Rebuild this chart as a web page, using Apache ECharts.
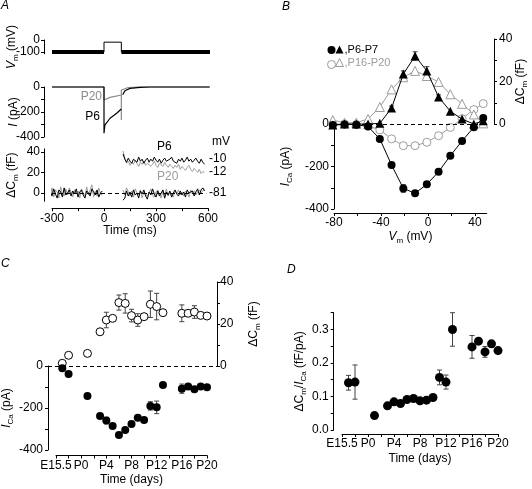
<!DOCTYPE html>
<html><head><meta charset="utf-8">
<script src="https://cdn.jsdelivr.net/npm/echarts@6/dist/echarts.min.js"></script>
<style>html,body{margin:0;padding:0;background:#fff}#c{width:532px;height:489px}</style>
</head><body><div id="c"></div>
<script>
// ================= DATA =================
// Panel A – voltage protocol (ms / mV as drawn)
const vmEdges = [-300, 0, 100, 613];
const vmHold = -100, vmStep = -18;
// Panel A – Ca currents (ms, pA)
const iP6 = [[-300,0],[0,0],[0,-370],[5,-305],[35,-250],[73,-210],[100,-176]];
const iP6Tail = [[108,-62],[111,-51],[121,-30],[150,-11],[208,-3],[265,0],[610,0]];
const iP20 = [[-300,0],[0,0],[0,-104],[35,-83],[100,-64],[100,-264],[100,-24],[110,-12],[140,-4],[200,0],[610,0]];
// Panel A – capacitance traces (fF), sampled every cmDt ms
const cmDt = 10, cmPreStart = -310, cmPostStart = 110;
const cmPreP6  = [2,-3,4,-1,-5,3,1,-4,5,-2,0,3,-3,2,-1,4,-4,1,3,-2,-5,2,0,-3,4,1,-2,3,-4,0,2];
const cmPreP20 = [-2,5,-4,3,1,-5,6,-1,-3,4,-2,5,1,-4,3,-1,2,-5,4,0,-3,6,-2,3,8,-4,2,-3,5,-1,-2];
const cmLowP6  = [-7,-5,2,-3,1,-4,3,-2,0,-5,2,-1,3,-3,-6,1,-2,4,-1,-4,2,-3,0,3,-5,1,-2,2,-4,0,3,-1,-3,2,-2,1,-4,3,0,-1,2,-3,1,4,-2,3,5,2];
const cmLowP20 = [3,-2,5,1,-3,2,-4,4,0,-2,3,-5,1,2,-3,0,4,-2,-4,1,3,-1,-5,2,-2,4,-3,1,0,-4,2,-1,3,-2,1,-3,2,0,-4,3,-1,2,-2,1,3,0,2,4];
const cmHiP6   = [38,33,30,34,31,29,33,32,30,35,31,33,29,32,34,30,33,31,35,32,30,33,29,32,34,31,30,33,35,31,32,29,33,31,34,30,32,35,31,33,30,32,34,31,29,33,30,28];
const cmHiP20  = [41,34,29,31,27,30,28,32,29,26,30,28,31,27,29,30,26,28,31,27,25,29,28,26,30,27,25,28,26,24,27,25,28,23,26,24,22,25,27,23,21,24,22,20,23,19,21,20];

// Panel B – I–V and ΔCm–V (mV, pA, fF)
const bV        = [-81,-71,-61,-51,-41,-31,-21,-11,-1,9,19,29,39,47];
const bIcaP6    = [-5,-2,-3,-12,-70,-193,-303,-326,-284,-225,-149,-80,-15,28];
const bIcaP6Err = [0,0,0,0,0,10,18,8,6,0,0,0,0,0];
const bIcaP16   = [0,0,-2,-9,-28,-70,-102,-102,-86,-55,-16,25,68,96];
const bCmP6     = [-0.5,0,0,0,0.3,7.5,23.5,32,25,12.7,6,2.3,0,1.5];
const bCmP6Err  = [0,0,0,0,0,1,1.5,2,2,1,0,0,0,0];
const bCmP16    = [1.8,0.6,0.6,2.4,8,16.3,22,25,22.6,19.8,14,9.5,4.5,0.3];

// Panels C & D – development (days; P0 = 0, E15.5 = -4)
const days      = [-3,-2,1,3,4,5,6,7,8,9,10,11,12,13,16,17,18,19,20];
const cIca      = [-11,-38,-143,-238,-260,-286,-328,-305,-276,-246,-257,-190,-197,-90,-108,-98,-111,-98,-101];
const cIcaErr   = [0,0,0,6,16,8,6,10,12,8,8,20,30,0,22,8,6,6,5];
const cCm       = [1.3,5.1,6,16.3,21.9,22.7,30.2,29.8,24,21.9,23.5,29.4,28.3,25.4,25.1,25.1,25.7,24.1,23.8];
const cCmErr    = [0,0,0,0,3.7,1.4,3.6,4.6,3,3,0,6.3,6.3,0,4,1,3,0,0];
const dRatio    = [0.141,0.143,0.043,0.072,0.084,0.079,0.091,0.094,0.087,0.089,0.097,0.157,0.143,0.300,0.248,0.265,0.233,0.257,0.237];
const dRatioErr = [0.022,0.051,0,0,0,0,0,0.005,0,0,0,0.022,0.021,0.05,0.034,0,0.016,0.01,0];
const dayTickVals  = [-4,0,4,8,12,16,20];
const dayTickNames = ['E15.5','P0','P4','P8','P12','P16','P20'];
const dayMinorTicks = [-4,-2,0,2,4,6,8,10,12,14,16,18,20];

// ================= STYLE / LAYOUT =================
const FONT = "'Liberation Sans', Arial, Helvetica, sans-serif";
const GRAY = '#8a8a8a', LGRAY = '#9c9c9c';
const rich = {
  i: {fontStyle:'italic', fontSize:12, fontFamily:FONT, color:'#000'},
  s: {fontSize:8, fontFamily:FONT, verticalAlign:'bottom', lineHeight:17, color:'#000'},
  n: {fontSize:12, fontFamily:FONT, color:'#000'}
};
// C frame 48..217 px, day axis -4 @56 px .. 20 @207 px
const cK = 151/24;
const cMin = -4 - 8/cK, cMax = 20 + 10/cK;

function vAxis(g, min, max, ticks, labels, extra) {
  const a = {
    type:'value', gridIndex:g, min:min, max:max, splitLine:{show:false},
    axisLine:{show:true, onZero:false, lineStyle:{color:'#000', width:1}},
    axisTick:{show:true, inside:false, length:3, customValues:ticks, lineStyle:{color:'#000', width:1}},
    axisLabel:{show:true, customValues:labels, margin:5, color:'#000', fontSize:12, fontFamily:FONT},
    nameLocation:'middle', nameMoveOverlap:false,
    nameTextStyle:{color:'#000', fontSize:12, fontFamily:FONT, rich:rich}
  };
  if (extra) {
    if (extra.fmt) a.axisLabel.formatter = extra.fmt;
    if (extra.margin != null) a.axisLabel.margin = extra.margin;
    delete extra.fmt; delete extra.margin;
    Object.assign(a, extra);
  }
  return a;
}
const hx = (g, min, max) => ({type:'value', gridIndex:g, min:min, max:max, show:false});
const hy = (g) => ({type:'value', gridIndex:g, min:0, max:1, show:false});

function errRender(params, api) {
  const x = api.value(0), lo = api.value(1), hi = api.value(2);
  const a = api.coord([x, lo]), b = api.coord([x, hi]), w = 2.5;
  const st = {stroke:'#444', lineWidth:1};
  return {type:'group', children:[
    {type:'line', shape:{x1:a[0], y1:a[1], x2:b[0], y2:b[1]}, style:st},
    {type:'line', shape:{x1:a[0]-w, y1:a[1], x2:a[0]+w, y2:a[1]}, style:st},
    {type:'line', shape:{x1:b[0]-w, y1:b[1], x2:b[0]+w, y2:b[1]}, style:st}
  ]};
}
function errData(xs, vs, es) {
  const out = [];
  xs.forEach((x, i) => { if (es[i] > 0) out.push([x, vs[i]-es[i], vs[i]+es[i]]); });
  return out;
}
function errSeries(xi, yi, data) {
  return {type:'custom', xAxisIndex:xi, yAxisIndex:yi, renderItem:errRender, data:data,
          encode:{x:0, y:[1,2]}, z:1, silent:true};
}
const sampled = (t0, arr) => arr.map((v, i) => [t0 + i*cmDt, v]);
const pairs = (xs, ys) => xs.map((x, i) => [x, ys[i]]);

function trace(xi, yi, data, color, w, extra) {
  return Object.assign({type:'line', xAxisIndex:xi, yAxisIndex:yi, data:data, showSymbol:false, symbol:'none',
    clip:false, silent:true, lineStyle:{color:color, width:w}, z:2}, extra || {});
}

const grids = [
  {left:52, top:40, width:156, height:13.8},      // 0 A Vm
  {left:52, top:87, width:156, height:50},        // 1 A I
  {left:52, top:148.9, width:156, height:52.3},   // 2 A Cm
  {left:334, top:39, width:152.75, height:85},    // 3 B upper (Cm)
  {left:334, top:124, width:152.75, height:85},   // 4 B lower (ICa)
  {left:48, top:282, width:169, height:84},       // 5 C upper (Cm)
  {left:48, top:366, width:169, height:84},       // 6 C lower (ICa)
  {left:56, top:454.5, width:151, height:1},      // 7 C x-axis
  {left:342, top:312.7, width:156, height:117.3}  // 8 D
].map(g => Object.assign({containLabel:false, outerBoundsMode:'none'}, g));

const dayFmt = v => { const k = dayTickVals.indexOf(v); return k >= 0 ? dayTickNames[k] : ''; };

const xAxes = [
  hx(0, -300, 600),
  hx(1, -300, 600),
  vAxis(2, -300, 600, [-300,-150,0,150,300,450,600], [-300,0,300,600],
        {offset:7, name:'Time (ms)', nameGap:16, margin:4}),
  hx(3, -80, 50),
  vAxis(4, -80, 50, [-80,-60,-40,-20,0,20,40], [-80,-40,0,40],
        {offset:4, name:'{i|V}{s|m}{n| (mV)}', nameGap:15, margin:4}),
  hx(5, cMin, cMax),
  hx(6, cMin, cMax),
  vAxis(7, -4, 20, dayMinorTicks, dayTickVals,
        {name:'Time (days)', nameGap:18, margin:4, fmt:dayFmt}),
  vAxis(8, -4, 20, dayMinorTicks, dayTickVals,
        {offset:4, name:'Time (days)', nameGap:19, margin:4, fmt:dayFmt})
];
const yAxes = [
  vAxis(0, -115, 0, [-100,0], [-100,0], {offset:8, margin:4, name:'{i|V}{s|m}{n| (mV)}', nameGap:24, nameRotate:90}),
  vAxis(1, -400, 0, [-400,-300,-200,-100,0], [-400,-200,0], {offset:8, margin:4, name:'{i|I}{n| (pA)}', nameGap:24, nameRotate:90}),
  vAxis(2, -8, 43, [0,20,40], [0,20,40], {offset:8, margin:4, name:'{n|ΔC}{s|m}{n| (fF)}', nameGap:24, nameRotate:90}),
  vAxis(3, 0, 40, [0,10,20,30,40], [0,20,40], {position:'right', offset:7.25, name:'{n|ΔC}{s|m}{n| (fF)}', nameGap:18, nameRotate:90}),
  vAxis(4, -400, 0, [-400,-300,-200,-100,0], [-400,-200,0], {name:'{i|I}{s|Ca}{n| (pA)}', nameGap:40, nameRotate:90}),
  vAxis(5, 0, 40, [0,10,20,30,40], [0,20,40], {position:'right', margin:3, name:'{n|ΔC}{s|m}{n| (fF)}', nameGap:28, nameRotate:90}),
  vAxis(6, -400, 0, [-400,-300,-200,-100,0], [-400,-200,0], {name:'{i|I}{s|Ca}{n| (pA)}', nameGap:33, nameRotate:90}),
  hy(7),
  vAxis(8, 0, 0.35, [0,0.05,0.1,0.15,0.2,0.25,0.3,0.35], [0,0.1,0.2,0.3],
        {offset:8.3, name:'{n|ΔC}{s|m}{n|/}{i|I}{s|Ca}{n| (fF/pA)}', nameGap:26, nameRotate:90, fmt:v => v.toFixed(1)})
];

const dashed = {type:[4,3], color:'#000', width:1};

const series = [
  // ---- A: voltage protocol
  trace(0, 0, [[vmEdges[0],vmHold],[vmEdges[1],vmHold]], '#000', 4, {lineStyle:{color:'#000', width:4, cap:'butt'}}),
  trace(0, 0, [[vmEdges[2],vmHold],[vmEdges[3],vmHold]], '#000', 4, {lineStyle:{color:'#000', width:4, cap:'butt'}}),
  trace(0, 0, [[vmEdges[1],vmHold],[vmEdges[1],vmStep],[vmEdges[2],vmStep],[vmEdges[2],vmHold]], '#000', 1),
  // ---- A: currents
  trace(1, 1, iP20, GRAY, 1.2),
  trace(1, 1, iP6, '#000', 1.2),
  trace(1, 1, iP6Tail, '#000', 1.2),
  // ---- A: capacitance
  trace(2, 2, sampled(cmPreStart, cmPreP20), LGRAY, 1, {markLine:{silent:true, symbol:'none', label:{show:false},
      lineStyle:dashed, data:[[{coord:[-300,0]},{coord:[590,0]}]]}}),
  trace(2, 2, sampled(cmPreStart, cmPreP6), '#000', 1),
  trace(2, 2, sampled(cmPostStart, cmLowP20), LGRAY, 1),
  trace(2, 2, sampled(cmPostStart, cmLowP6), '#000', 1),
  trace(2, 2, sampled(cmPostStart, cmHiP20), LGRAY, 1),
  trace(2, 2, sampled(cmPostStart, cmHiP6), '#000', 1),
  // ---- B
  {name:'P16-P20 ICa', type:'line', xAxisIndex:4, yAxisIndex:4, data:pairs(bV, bIcaP16), symbol:'circle', symbolSize:8,
   clip:false, itemStyle:{color:'#fff', borderColor:LGRAY, borderWidth:1, opacity:1}, lineStyle:{color:LGRAY, width:1}, z:3,
   markLine:{silent:true, symbol:'none', label:{show:false}, lineStyle:dashed, data:[{yAxis:0}]}},
  {name:'P16-P20 Cm', type:'line', xAxisIndex:3, yAxisIndex:3, data:pairs(bV, bCmP16), symbol:'triangle', symbolSize:9,
   clip:false, itemStyle:{color:'#fff', borderColor:LGRAY, borderWidth:1, opacity:1}, lineStyle:{color:LGRAY, width:1}, z:3},
  errSeries(4, 4, errData(bV, bIcaP6, bIcaP6Err)),
  errSeries(3, 3, errData(bV, bCmP6, bCmP6Err)),
  {name:'P6-P7 ICa', type:'line', xAxisIndex:4, yAxisIndex:4, data:pairs(bV, bIcaP6), symbol:'circle', symbolSize:8,
   clip:false, itemStyle:{color:'#000', opacity:1}, lineStyle:{color:'#000', width:1}, z:4},
  {name:'P6-P7 Cm', type:'line', xAxisIndex:3, yAxisIndex:3, data:pairs(bV, bCmP6), symbol:'triangle', symbolSize:9,
   clip:false, itemStyle:{color:'#000', opacity:1}, lineStyle:{color:'#000', width:1}, z:4},
  // ---- C
  errSeries(5, 5, errData(days, cCm, cCmErr)),
  errSeries(6, 6, errData(days, cIca, cIcaErr)),
  {type:'scatter', xAxisIndex:5, yAxisIndex:5, data:pairs(days, cCm), symbol:'circle', symbolSize:8, clip:false,
   itemStyle:{color:'#fff', borderColor:'#000', borderWidth:1, opacity:1}, z:3},
  {type:'scatter', xAxisIndex:6, yAxisIndex:6, data:pairs(days, cIca), symbol:'circle', symbolSize:8, clip:false,
   itemStyle:{color:'#000', opacity:1}, z:3,
   markLine:{silent:true, symbol:'none', label:{show:false}, lineStyle:dashed, data:[{yAxis:0}]}},
  // ---- D
  errSeries(8, 8, errData(days, dRatio, dRatioErr)),
  {type:'scatter', xAxisIndex:8, yAxisIndex:8, data:pairs(days, dRatio), symbol:'circle', symbolSize:9, clip:false,
   itemStyle:{color:'#000', opacity:1}, z:3}
];

const legendText = {'P6-P7 Cm':',P6-P7', 'P16-P20 Cm':',P16-P20'};
const legends = [
  {left:322, top:41, orient:'vertical', itemGap:6, itemWidth:8, itemHeight:8, selectedMode:false,
   itemStyle:{borderWidth:1},
   data:[{name:'P6-P7 ICa', icon:'circle'}, {name:'P16-P20 ICa', icon:'circle'}],
   formatter:() => '', textStyle:{fontSize:11}},
  {left:330, top:39, orient:'vertical', itemGap:2, itemWidth:8, itemHeight:8, selectedMode:false,
   itemStyle:{borderWidth:1},
   data:[{name:'P6-P7 Cm', icon:'triangle', textStyle:{color:'#000'}},
         {name:'P16-P20 Cm', icon:'triangle', textStyle:{color:LGRAY}}],
   formatter:n => legendText[n], textStyle:{fontSize:11, fontFamily:FONT, padding:[0,0,0,-4]}}
];

function txt(x, y, text, opts) {
  return {type:'text', x:x, y:y, silent:true, style:Object.assign({text:text, fill:'#000',
    font:'12px ' + FONT, align:'left', verticalAlign:'middle'}, opts || {})};
}
const graphics = [
  txt(1, 6, 'A', {font:'italic 12px ' + FONT}),
  txt(282, 7, 'B', {font:'italic 12px ' + FONT}),
  txt(1, 264, 'C', {font:'italic 12px ' + FONT}),
  txt(287, 270, 'D', {font:'italic 12px ' + FONT}),
  txt(102, 97, 'P20', {fill:GRAY, align:'right'}),
  txt(100, 117, 'P6', {align:'right'}),
  txt(157, 147, 'P6'),
  txt(157, 177, 'P20', {fill:LGRAY}),
  txt(212, 142, 'mV'),
  txt(209, 159, '-10'),
  txt(209, 172, '-12'),
  txt(209, 193, '-81')
];

const chart = echarts.init(document.getElementById('c'), null, {renderer:'canvas'});
chart.setOption({
  animation:false,
  backgroundColor:'#fff',
  textStyle:{fontFamily:FONT, color:'#000'},
  grid:grids, xAxis:xAxes, yAxis:yAxes, series:series, legend:legends, graphic:graphics
});
</script></body></html>
